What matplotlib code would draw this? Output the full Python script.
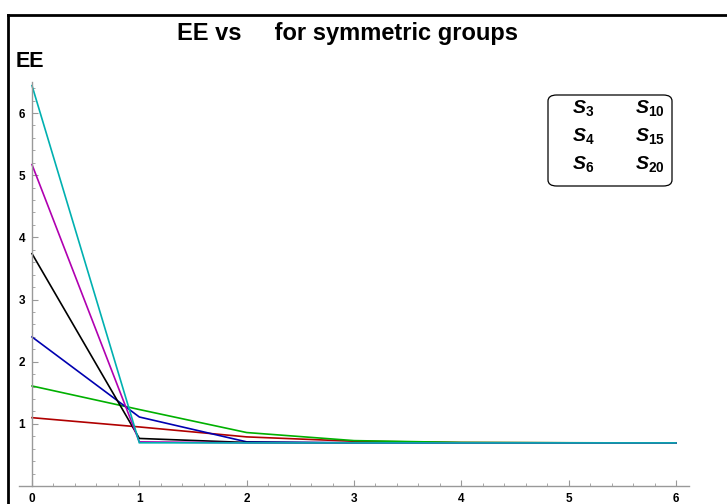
import numpy as np
import matplotlib.pyplot as plt
from matplotlib.lines import Line2D
from matplotlib.patches import FancyBboxPatch
from matplotlib.ticker import FixedLocator

plt.rcParams['font.family'] = ['Liberation Sans', 'DejaVu Sans']
plt.rcParams['mathtext.fontset'] = 'custom'
plt.rcParams['mathtext.rm'] = 'Liberation Sans'
plt.rcParams['mathtext.bf'] = 'Liberation Sans:bold'
plt.rcParams['mathtext.it'] = 'Liberation Sans:italic'
plt.rcParams['mathtext.bfit'] = 'Liberation Sans:bold:italic'

# x = step index, y = EE for each symmetric group
steps = [0, 1, 2, 3, 4, 5, 6]
groups = ['3', '4', '6', '10', '15', '20']
ee_s3 = [1.099, 0.95, 0.79, 0.72, 0.70, 0.695, 0.693]
ee_s4 = [1.609, 1.23, 0.86, 0.73, 0.70, 0.695, 0.693]
ee_s6 = [2.398, 1.11, 0.71, 0.695, 0.693, 0.693, 0.693]
ee_s10 = [3.738, 0.765, 0.70, 0.693, 0.693, 0.693, 0.693]
ee_s15 = [5.170, 0.71, 0.694, 0.693, 0.693, 0.693, 0.693]
ee_s20 = [6.441, 0.695, 0.693, 0.693, 0.693, 0.693, 0.693]
series = [ee_s3, ee_s4, ee_s6, ee_s10, ee_s15, ee_s20]
colors = ['#b00000', '#00b000', '#0000b0', 'black', '#b000b0', '#00b0b0']

W, H = 727, 504
fig = plt.figure(figsize=(W / 100, H / 100), dpi=100)
ax = fig.add_axes([0, 0, 1, 1])
ax.patch.set_alpha(0)

# pixel mapping: x=0 -> 32px, x=6 -> 676px ; y=0 -> 486px, y=6 -> 113px
px_x = (676 - 32) / 6
px_y = (486 - 113) / 6
ax.set_xlim(-32 / px_x, (W - 32) / px_x)
ax.set_ylim(-(H - 486) / px_y, 486 / px_y)

for ys, c in zip(series, colors):
    ax.plot(steps, ys, color=c, lw=1.2, solid_joinstyle='miter')

for s in ['top', 'right']:
    ax.spines[s].set_visible(False)
ax.spines['left'].set_position(('data', 0))
ax.spines['bottom'].set_position(('data', 0))
ax.spines['left'].set_bounds(0, 6.5)
ax.spines['bottom'].set_bounds(-0.12, 6.12)
for s in ['left', 'bottom']:
    ax.spines[s].set_color('#999999')
    ax.spines[s].set_linewidth(1.0)

ax.set_xticks(range(0, 7))
ax.set_yticks(range(1, 7))
ax.xaxis.set_minor_locator(FixedLocator(np.arange(0.2, 6.01, 0.2)))
ax.yaxis.set_minor_locator(FixedLocator(np.arange(0.2, 6.41, 0.2)))
ax.tick_params(which='both', direction='in', color='#999999')
ax.tick_params(which='major', length=4, width=0.8, labelsize=8.5, pad=5)
ax.tick_params(which='minor', length=2, width=0.6)
for lab in ax.get_xticklabels() + ax.get_yticklabels():
    lab.set_fontweight('bold')

# figure frame
fig.add_artist(Line2D([8 / W, 8 / W], [0, 1 - 15 / H], transform=fig.transFigure,
                      color='black', lw=2))
fig.add_artist(Line2D([8 / W, 1], [1 - 15 / H, 1 - 15 / H], transform=fig.transFigure,
                      color='black', lw=2))

fig.text(177 / W, 1 - 40 / H, 'EE vs     for symmetric groups', fontsize=17,
         fontweight='bold', ha='left', va='baseline')
fig.text(16 / W, 1 - 67 / H, 'EE', fontsize=15.5, fontweight='bold', ha='left', va='baseline')

# legend box
box = FancyBboxPatch((548 / W, 1 - 186 / H), 124 / W, 91 / H,
                     boxstyle='round,pad=0,rounding_size=0.012',
                     transform=fig.transFigure, facecolor='white', edgecolor='black', lw=0.9)
fig.add_artist(box)
rows = [113, 141, 169]
for i, g in enumerate(groups):
    cx = 583 if i < 3 else 650
    cy = rows[i % 3]
    fig.text(cx / W, 1 - cy / H, r'$\mathbfit{S}_{\mathbf{' + g + '}}$', fontsize=14,
             ha='center', va='baseline')

fig.savefig('out.png', dpi=100)
